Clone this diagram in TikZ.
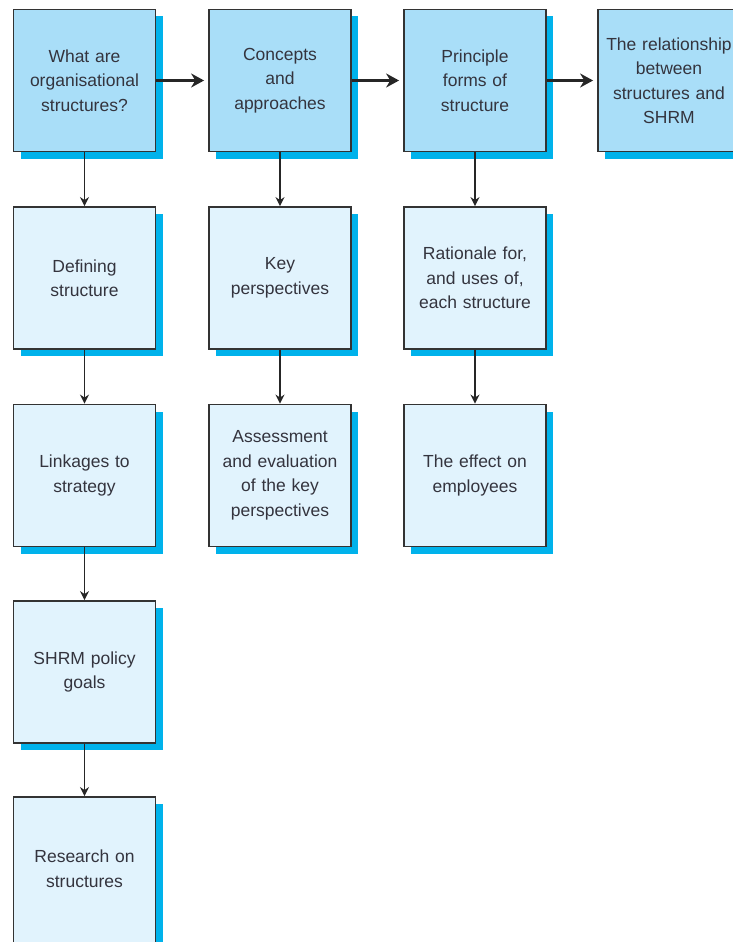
\documentclass[tikz,border=0pt]{standalone}
\usepackage{fontspec}
\setmainfont{Liberation Sans}
\usetikzlibrary{shadows,arrows.meta}
\definecolor{topfill}{HTML}{A9DEF8}
\definecolor{subfill}{HTML}{E1F3FD}
\definecolor{shadowblue}{HTML}{00B2EB}
\definecolor{edgegray}{HTML}{333333}
\definecolor{textgray}{HTML}{34343E}
\tikzset{
  x=1pt, y=-1pt,
  boxbase/.style={draw=edgegray, line width=1.8pt, minimum width=142pt, minimum height=142pt,
    inner sep=0pt, align=center, text=textgray, text width=136pt,
    font=\fontsize{17.5}{24.5}\selectfont,
    general shadow={fill=shadowblue, shadow xshift=7pt, shadow yshift=-7pt}},
  topbox/.style={boxbase, fill=topfill},
  subbox/.style={boxbase, fill=subfill},
  flowarrow/.style={draw=black!85, line width=3pt, -{Stealth[length=13pt,width=14pt]}, shorten >=4pt},
  downarrow/.style={draw=black!85, line width=1.4pt, -{Stealth[length=9pt,width=9pt]}},
}
\begin{document}
\begin{tikzpicture}
\useasboundingbox[clip] (0,0) rectangle (733,942);
% top row
\node[topbox] (q)   at (84.5,80.5) {What are\\organisational\\structures?};
\node[topbox] (ca)  at (280,80.5)  {Concepts\\and\\approaches};
\node[topbox] (pf)  at (475,80.5)  {Principle\\forms of\\structure};
\node[topbox] (rel) at (669,80.5)  {The relationship\\between\\structures and\\SHRM};
% first column
\node[subbox] (def) at (84.5,278)   {Defining\\structure};
\node[subbox] (lnk) at (84.5,475.5) {Linkages to\\strategy};
\node[subbox] (pol) at (84.5,672)   {SHRM policy\\goals};
% the last box runs past the lower edge of the page
\node[subbox, minimum height=150pt, text depth=31pt] (res) at (84.5,872) {Research on\\structures};
% second column
\node[subbox] (key) at (280,278)   {Key\\perspectives};
\node[subbox] (ass) at (280,475.5) {Assessment\\and evaluation\\of the key\\perspectives};
% third column
\node[subbox] (rat) at (475,278)   {Rationale for,\\and uses of,\\each structure};
\node[subbox] (eff) at (475,475.5) {The effect on\\employees};
% horizontal flow
\draw[flowarrow] (q) -- (ca);
\draw[flowarrow] (ca) -- (pf);
\draw[flowarrow] (pf) -- (rel);
% vertical flow
\draw[downarrow] (q) -- (def);
\draw[downarrow] (def) -- (lnk);
\draw[downarrow] (lnk) -- (pol);
\draw[downarrow] (pol) -- (res);
\draw[downarrow] (ca) -- (key);
\draw[downarrow] (key) -- (ass);
\draw[downarrow] (pf) -- (rat);
\draw[downarrow] (rat) -- (eff);
\end{tikzpicture}
\end{document}
